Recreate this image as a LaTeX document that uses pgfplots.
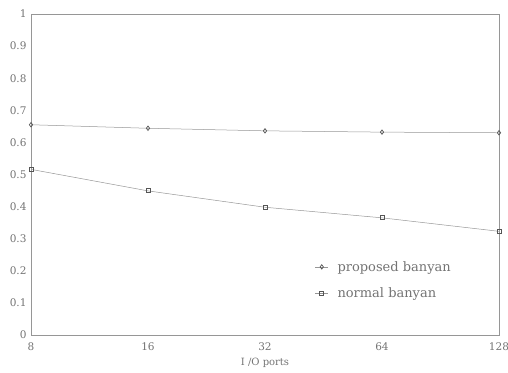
\documentclass[border=0pt]{standalone}
\usepackage{pgfplots}
\pgfplotsset{compat=1.18}
\usepackage{fontspec}
\setmainfont{DejaVu Serif}
\definecolor{txt}{RGB}{115,115,115}
\definecolor{ln}{RGB}{150,150,150}
\definecolor{mk}{RGB}{85,85,85}
\begin{document}
\begin{tikzpicture}
\begin{axis}[
  name=ax,
  scale only axis,
  width=468pt, height=321pt,
  xmode=log, log basis x=2,
  xmin=8, xmax=128, ymin=0, ymax=1,
  xtick={8,16,32,64,128},
  xticklabels={8,16,32,64,128},
  ytick={0,0.1,0.2,0.3,0.4,0.5,0.6,0.7,0.8,0.9,1},
  yticklabels={0,0.1,0.2,0.3,0.4,0.5,0.6,0.7,0.8,0.9,1},
  tick style={draw=none},
  axis line style={draw=ln, line width=0.6pt},
  tick label style={font=\fontsize{10.5}{12}\selectfont, text=txt},
  xticklabel style={yshift=-4pt},
  yticklabel style={xshift=-1pt},
  xlabel={I /O ports},
  xlabel style={font=\fontsize{10}{12}\selectfont, text=txt, yshift=-1pt},
  legend style={draw=none, fill=none, at={(0.600,0.243)}, anchor=north west,
    font=\fontsize{13}{15}\selectfont, text=txt, row sep=11pt,
    /tikz/every odd column/.append style={column sep=7pt}},
  legend cell align=left,
  legend image code/.code={\draw[#1, mark repeat=2, mark phase=2] plot coordinates {(0pt,0pt) (6.5pt,0pt) (13pt,0pt)};},
]
\addplot[color=ln, line width=0.5pt, mark=diamond, mark size=2.2pt, mark options={draw=mk, line width=0.7pt}]
  coordinates {(8,0.655) (16,0.644) (32,0.636) (64,0.632) (128,0.630)};
\addlegendentry{proposed banyan}
\addplot[color=ln, line width=0.5pt, mark=square, mark size=2pt, mark options={draw=mk, line width=0.8pt}]
  coordinates {(8,0.516) (16,0.449) (32,0.398) (64,0.365) (128,0.323)};
\addlegendentry{normal banyan}
\end{axis}
\pgfresetboundingbox
\path ([xshift=-31pt,yshift=-37pt]ax.south west) rectangle ([xshift=9pt,yshift=14pt]ax.north east);
\end{tikzpicture}
\end{document}
